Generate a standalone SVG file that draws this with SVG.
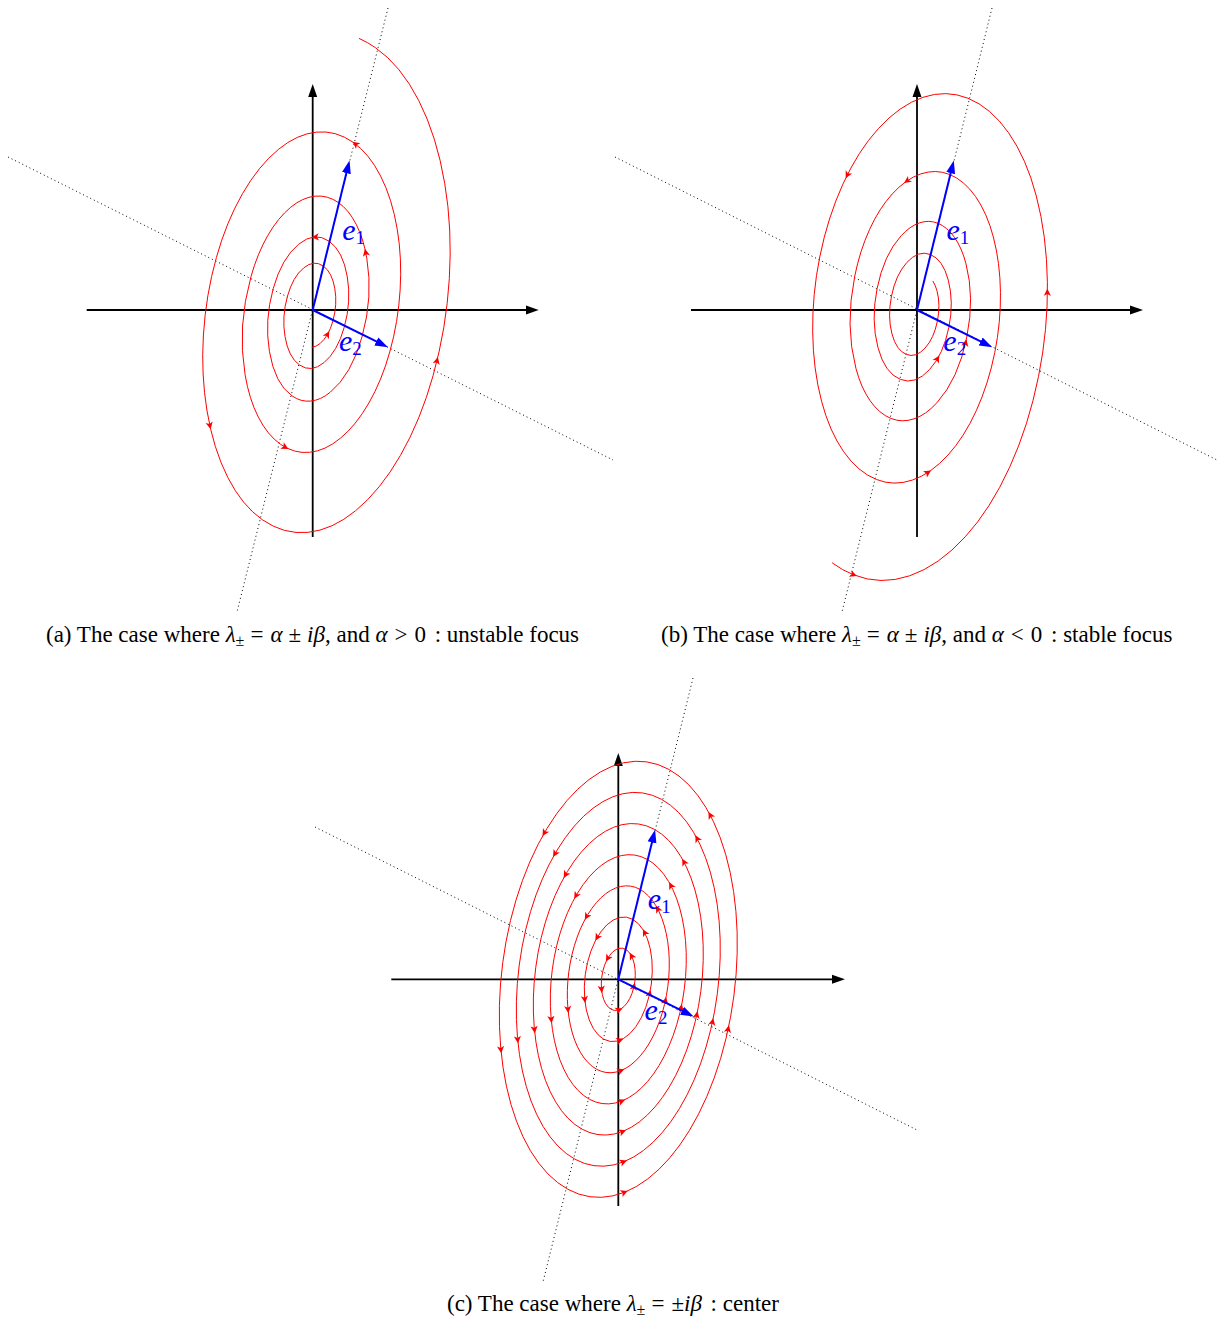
<svg xmlns="http://www.w3.org/2000/svg" width="1218" height="1319" viewBox="0 0 1218 1319">
<defs>
<marker id="ak" markerUnits="userSpaceOnUse" markerWidth="13" markerHeight="10" viewBox="0 0 13 10" refX="5" refY="5" orient="auto"><path d="M0,0.5 L13,5 L0,9.5 Z" fill="#000"/></marker>
<marker id="ab" markerUnits="userSpaceOnUse" markerWidth="13" markerHeight="10" viewBox="0 0 13 10" refX="5" refY="5" orient="auto"><path d="M0,0.5 L13,5 L0,9.5 Z" fill="#00f"/></marker>
<path id="rh" d="M3.6,0 L-3.6,-3.6 L-1.8,0 L-3.6,3.6 Z" fill="#f00"/>
</defs>
<style>
.ax{stroke:#000;stroke-width:1.8;fill:none;marker-end:url(#ak)}
.dot{stroke:#000;stroke-width:1;stroke-dasharray:1 3;fill:none}
.tr{fill:none;stroke:#f00;stroke-width:1;vector-effect:non-scaling-stroke}
.ev{stroke:#00f;stroke-width:2;fill:none;marker-end:url(#ab)}
.lab{font-family:"Liberation Serif",serif;font-style:italic;font-size:30px;fill:#00f}
.sub{font-style:normal;font-size:19px}
.cap{font-family:"Liberation Serif",serif;font-size:23px;fill:#000}
.it{font-style:italic}
</style>

<g id="panel-a">
<g id="a-dotted"><path class="dot" d="M388,8 L237,612"/><path class="dot" d="M8,157 L613,460"/></g>
<g id="a-axes"><path class="ax" d="M86.7,310 H530.7"/><path class="ax" d="M312.7,537 V92"/></g>
<g id="a-trajectory">
<g transform="matrix(36,-150,77,42,312.7,310)"><path class="tr" d="M-0.2229,0.0923 A0.2446,0.2446 0 0 0 -0.1754,0.1754 A0.2552,0.2552 0 0 0 0,0.2623 A0.2698,0.2698 0 0 0 0.1961,0.1961 A0.2853,0.2853 0 0 0 0.2933,0 A0.3017,0.3017 0 0 0 0.2193,-0.2193 A0.3190,0.3190 0 0 0 0,-0.3279 A0.3373,0.3373 0 0 0 -0.2451,-0.2451 A0.3566,0.3566 0 0 0 -0.3666,0 A0.3771,0.3771 0 0 0 -0.2741,0.2741 A0.3987,0.3987 0 0 0 0,0.4098 A0.4216,0.4216 0 0 0 0.3064,0.3064 A0.4458,0.4458 0 0 0 0.4582,0 A0.4714,0.4714 0 0 0 0.3426,-0.3426 A0.4984,0.4984 0 0 0 0,-0.5123 A0.5270,0.5270 0 0 0 -0.3830,-0.3830 A0.5572,0.5572 0 0 0 -0.5728,0 A0.5892,0.5892 0 0 0 -0.4282,0.4282 A0.6230,0.6230 0 0 0 0,0.6404 A0.6587,0.6587 0 0 0 0.4788,0.4788 A0.6965,0.6965 0 0 0 0.7159,0 A0.7365,0.7365 0 0 0 0.5353,-0.5353 A0.7787,0.7787 0 0 0 0,-0.8005 A0.8234,0.8234 0 0 0 -0.5985,-0.5985 A0.8707,0.8707 0 0 0 -0.8949,0 A0.9206,0.9206 0 0 0 -0.6691,0.6691 A0.9734,0.9734 0 0 0 0,1.0006 A1.0293,1.0293 0 0 0 0.7481,0.7481 A1.0883,1.0883 0 0 0 1.1187,0 A1.1508,1.1508 0 0 0 0.8364,-0.8364 A1.2168,1.2168 0 0 0 0,-1.2507 A1.2866,1.2866 0 0 0 -0.9351,-0.9351 A1.3604,1.3604 0 0 0 -1.3983,0 A1.4385,1.4385 0 0 0 -1.0455,1.0455 A1.5210,1.5210 0 0 0 0,1.5634 A1.6082,1.6082 0 0 0 1.1689,1.1689 A1.7005,1.7005 0 0 0 1.7479,0 A1.7556,1.7556 0 0 0 1.7499,-0.2170"/></g>
<use href="#rh" transform="translate(327.5,334.3) rotate(-60.4)"/>
<use href="#rh" transform="translate(315.2,237.1) rotate(176.7)"/>
<use href="#rh" transform="translate(365.7,252.4) rotate(-101.7)"/>
<use href="#rh" transform="translate(355.4,144.0) rotate(-142.1)"/>
<use href="#rh" transform="translate(209.9,425.7) rotate(77.6)"/>
<use href="#rh" transform="translate(285.2,447.2) rotate(28.7)"/>
<use href="#rh" transform="translate(437.0,360.6) rotate(-76.3)"/>
</g>
<g id="a-vectors"><path class="ev" d="M312.7,310 L347.59,168.27"/><path class="ev" d="M312.7,310 L380.83,343.66"/></g>
<g id="a-label-e1"><text class="lab" x="342.2" y="239.5">e<tspan class="sub" dy="4">1</tspan></text></g>
<g id="a-label-e2"><text class="lab" x="339" y="351">e<tspan class="sub" dy="4">2</tspan></text></g>
<g id="a-caption"><text class="cap" x="46" y="642">(a) The case where <tspan class="it">λ</tspan><tspan font-size="16" dy="3.5">±</tspan><tspan dy="-3.5" dx="6">=</tspan><tspan class="it" dx="7">α</tspan><tspan dx="6">±</tspan><tspan class="it" dx="6">iβ</tspan>, and <tspan class="it">α</tspan><tspan dx="7">&gt;</tspan><tspan dx="7">0</tspan><tspan dx="3"> : unstable focus</tspan></text></g>
</g>

<g id="panel-b">
<g id="b-dotted"><path class="dot" d="M992,8 L842,612"/><path class="dot" d="M615,157 L1217,460"/></g>
<g id="b-axes"><path class="ax" d="M691,310 H1135"/><path class="ax" d="M917,537 V92"/></g>
<g id="b-trajectory">
<g transform="matrix(36,-150,77,42,917,310)"><path class="tr" d="M-1.7632,-0.2780 A1.775,1.775 0 0 0 -1.7650,0 A1.7171,1.7171 0 0 0 -1.1803,1.1803 A1.6239,1.6239 0 0 0 0,1.5786 A1.5358,1.5358 0 0 0 1.0557,1.0557 A1.4525,1.4525 0 0 0 1.4120,0 A1.3737,1.3737 0 0 0 0.9443,-0.9443 A1.2991,1.2991 0 0 0 0,-1.2629 A1.2287,1.2287 0 0 0 -0.8446,-0.8446 A1.1620,1.1620 0 0 0 -1.1296,0 A1.0989,1.0989 0 0 0 -0.7554,0.7554 A1.0393,1.0393 0 0 0 0,1.0103 A0.9829,0.9829 0 0 0 0.6757,0.6757 A0.9296,0.9296 0 0 0 0.9037,0 A0.8792,0.8792 0 0 0 0.6043,-0.6043 A0.8315,0.8315 0 0 0 0,-0.8083 A0.7863,0.7863 0 0 0 -0.5405,-0.5405 A0.7437,0.7437 0 0 0 -0.7229,0 A0.7033,0.7033 0 0 0 -0.4835,0.4835 A0.6652,0.6652 0 0 0 0,0.6466 A0.6291,0.6291 0 0 0 0.4324,0.4324 A0.5949,0.5949 0 0 0 0.5783,0 A0.5627,0.5627 0 0 0 0.3868,-0.3868 A0.5321,0.5321 0 0 0 0,-0.5173 A0.5033,0.5033 0 0 0 -0.3459,-0.3459 A0.4759,0.4759 0 0 0 -0.4627,0 A0.4501,0.4501 0 0 0 -0.3094,0.3094 A0.4257,0.4257 0 0 0 0,0.4138 A0.4026,0.4026 0 0 0 0.2768,0.2768 A0.3808,0.3808 0 0 0 0.3701,0 A0.3601,0.3601 0 0 0 0.2475,-0.2475 A0.3406,0.3406 0 0 0 0,-0.3311 A0.3221,0.3221 0 0 0 -0.2214,-0.2214 A0.3046,0.3046 0 0 0 -0.2961,0 A0.2881,0.2881 0 0 0 -0.1980,0.1980 A0.2725,0.2725 0 0 0 0,0.2649 A0.2577,0.2577 0 0 0 0.1771,0.1771 A0.2473,0.2473 0 0 0 0.2222,0.1013"/></g>
<use href="#rh" transform="translate(853.5,574.8) rotate(21.5)"/>
<use href="#rh" transform="translate(1047.4,292.3) rotate(-89.4)"/>
<use href="#rh" transform="translate(847.3,175.1) rotate(116.7)"/>
<use href="#rh" transform="translate(907.0,180.9) rotate(145.8)"/>
<use href="#rh" transform="translate(937.5,358.6) rotate(-59.8)"/>
<use href="#rh" transform="translate(965.6,342.7) rotate(-77.0)"/>
<use href="#rh" transform="translate(928.0,472.4) rotate(-33.0)"/>
</g>
<g id="b-vectors"><path class="ev" d="M917,310 L951.89,168.27"/><path class="ev" d="M917,310 L985.13,343.66"/></g>
<g id="b-label-e1"><text class="lab" x="946.5" y="239.5">e<tspan class="sub" dy="4">1</tspan></text></g>
<g id="b-label-e2"><text class="lab" x="943.3" y="351">e<tspan class="sub" dy="4">2</tspan></text></g>
<g id="b-caption"><text class="cap" x="661" y="642">(b) The case where <tspan class="it">λ</tspan><tspan font-size="16" dy="3.5">±</tspan><tspan dy="-3.5" dx="6">=</tspan><tspan class="it" dx="7">α</tspan><tspan dx="6">±</tspan><tspan class="it" dx="6">iβ</tspan>, and <tspan class="it">α</tspan><tspan dx="7">&lt;</tspan><tspan dx="7">0</tspan><tspan dx="3"> : stable focus</tspan></text></g>
</g>

<g id="panel-c">
<g id="c-dotted"><path class="dot" d="M693,678 L543,1282"/><path class="dot" d="M315,827 L917,1130"/></g>
<g id="c-axes"><path class="ax" d="M391.3,979.3 H837"/><path class="ax" d="M618.3,1206 V761"/></g>
<g id="c-trajectories">
<g transform="matrix(36,-150,77,42,618.3,979.3)">
<circle class="tr" r="0.2"/><circle class="tr" r="0.4"/><circle class="tr" r="0.6"/><circle class="tr" r="0.8"/><circle class="tr" r="1.0"/><circle class="tr" r="1.2"/><circle class="tr" r="1.4"/>
</g>
<use href="#rh" transform="translate(619.17,1009.73) rotate(-21.4)"/>
<use href="#rh" transform="translate(620.05,1040.16) rotate(-21.4)"/>
<use href="#rh" transform="translate(620.92,1070.60) rotate(-21.4)"/>
<use href="#rh" transform="translate(621.79,1101.03) rotate(-21.4)"/>
<use href="#rh" transform="translate(622.66,1131.46) rotate(-21.4)"/>
<use href="#rh" transform="translate(623.54,1161.89) rotate(-21.4)"/>
<use href="#rh" transform="translate(624.41,1192.33) rotate(-21.4)"/>
<use href="#rh" transform="translate(634.00,986.38) rotate(-77.9)"/>
<use href="#rh" transform="translate(649.70,993.47) rotate(-77.9)"/>
<use href="#rh" transform="translate(665.40,1000.55) rotate(-77.9)"/>
<use href="#rh" transform="translate(681.10,1007.63) rotate(-77.9)"/>
<use href="#rh" transform="translate(696.80,1014.72) rotate(-77.9)"/>
<use href="#rh" transform="translate(712.50,1021.80) rotate(-77.9)"/>
<use href="#rh" transform="translate(728.20,1028.88) rotate(-77.9)"/>
<use href="#rh" transform="translate(631.43,955.84) rotate(-117.8)"/>
<use href="#rh" transform="translate(644.56,932.38) rotate(-117.8)"/>
<use href="#rh" transform="translate(657.69,908.92) rotate(-117.8)"/>
<use href="#rh" transform="translate(670.81,885.45) rotate(-117.8)"/>
<use href="#rh" transform="translate(683.94,861.99) rotate(-117.8)"/>
<use href="#rh" transform="translate(697.07,838.53) rotate(-117.8)"/>
<use href="#rh" transform="translate(710.20,815.07) rotate(-117.8)"/>
<use href="#rh" transform="translate(607.73,958.40) rotate(120)"/>
<use href="#rh" transform="translate(597.16,937.49) rotate(120)"/>
<use href="#rh" transform="translate(586.59,916.59) rotate(120)"/>
<use href="#rh" transform="translate(576.02,895.69) rotate(120)"/>
<use href="#rh" transform="translate(565.45,874.78) rotate(120)"/>
<use href="#rh" transform="translate(554.88,853.88) rotate(120)"/>
<use href="#rh" transform="translate(544.31,832.98) rotate(120)"/>
<use href="#rh" transform="translate(601.53,989.37) rotate(84.6)"/>
<use href="#rh" transform="translate(584.76,999.44) rotate(84.6)"/>
<use href="#rh" transform="translate(567.99,1009.51) rotate(84.6)"/>
<use href="#rh" transform="translate(551.22,1019.58) rotate(84.6)"/>
<use href="#rh" transform="translate(534.45,1029.65) rotate(84.6)"/>
<use href="#rh" transform="translate(517.69,1039.72) rotate(84.6)"/>
<use href="#rh" transform="translate(500.91,1049.79) rotate(84.6)"/>
</g>
<g id="c-vectors"><path class="ev" d="M618.3,979.3 L653.19,837.57"/><path class="ev" d="M618.3,979.3 L686.43,1012.96"/></g>
<g id="c-label-e1"><text class="lab" x="647.8" y="908.8">e<tspan class="sub" dy="4">1</tspan></text></g>
<g id="c-label-e2"><text class="lab" x="644.6" y="1020.3">e<tspan class="sub" dy="4">2</tspan></text></g>
<g id="c-caption"><text class="cap" x="447" y="1311">(c) The case where <tspan class="it">λ</tspan><tspan font-size="16" dy="3.5">±</tspan><tspan dy="-3.5" dx="6">=</tspan><tspan dx="7">±</tspan><tspan class="it">iβ</tspan><tspan dx="3"> : center</tspan></text></g>
</g>
</svg>
